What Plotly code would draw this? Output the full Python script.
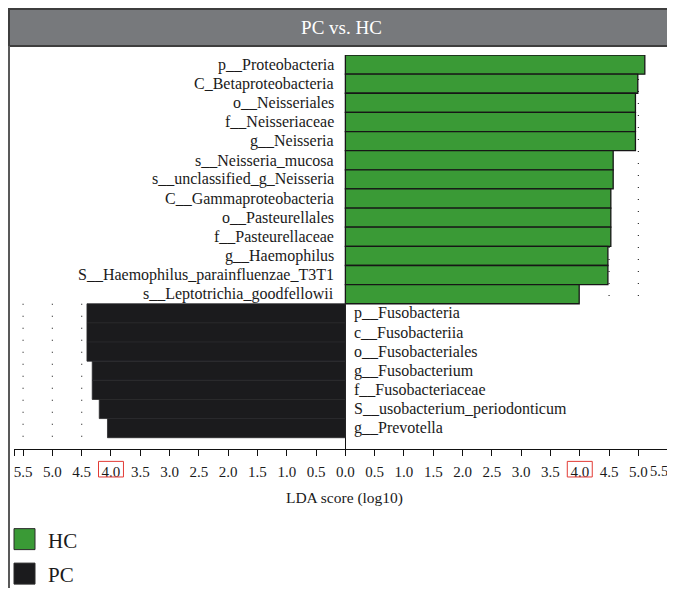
import plotly.graph_objects as go

# ---------------- data ----------------
hc_labels = [
    "p__Proteobacteria", "C_Betaproteobacteria", "o__Neisseriales",
    "f__Neisseriaceae", "g__Neisseria", "s__Neisseria_mucosa",
    "s__unclassified_g_Neisseria", "C__Gammaproteobacteria",
    "o__Pasteurellales", "f__Pasteurellaceae", "g__Haemophilus",
    "S__Haemophilus_parainfluenzae_T3T1", "s__Leptotrichia_goodfellowii",
]
hc_scores = [5.11, 4.99, 4.95, 4.95, 4.95, 4.57, 4.57, 4.53, 4.53, 4.53, 4.48, 4.48, 3.99]

pc_labels = [
    "p__Fusobacteria", "c__Fusobacteriia", "o__Fusobacteriales",
    "g__Fusobacterium", "f__Fusobacteriaceae",
    "S__usobacterium_periodonticum", "g__Prevotella",
]
pc_scores = [4.41, 4.41, 4.41, 4.32, 4.32, 4.20, 4.06]

group_names = ["HC", "PC"]
group_colors = ["#3a9a36", "#1b1b1d"]

tick_values = [-5.5, -5.0, -4.5, -4.0, -3.5, -3.0, -2.5, -2.0, -1.5, -1.0, -0.5,
               0.0, 0.5, 1.0, 1.5, 2.0, 2.5, 3.0, 3.5, 4.0, 4.5, 5.0, 5.5]
grid_values = [4.5, 5.0, 5.5]
highlight_ticks = [-4.0, 4.0]
title_text = "PC vs. HC"
axis_title = "LDA score (log10)"

# ---------------- geometry ----------------
# the page body adds an 8px offset; the figure is sized to fit the window
OFF = 8
VISIBLE_RIGHT = 669          # anchor for the last right-hand tick label
W, H = 675 - OFF, 596 - 2 * OFF
PLOT_LEFT, PLOT_RIGHT, PLOT_TOP, PLOT_BOTTOM = 14, 675, 55, 449.3   # window px
L = PLOT_LEFT - OFF
R = 0
T = PLOT_TOP - OFF
B = H - (PLOT_BOTTOM - OFF)
X_RANGE = [-5.655, 5.625]
SERIF = "Liberation Serif, Times New Roman, serif"

plot_w = W - L - R
plot_h = H - T - B


def px_x(px):
    """window x pixel -> paper x"""
    return (px - OFF - L) / plot_w


def px_y(py):
    """window y pixel -> paper y"""
    return (H - B - (py - OFF)) / plot_h


all_labels = hc_labels + pc_labels
n_hc, n_all = len(hc_labels), len(all_labels)

fig = go.Figure()
fig.add_trace(go.Bar(
    x=hc_scores, y=hc_labels, orientation="h", width=1, name=group_names[0],
    marker=dict(color=group_colors[0], line=dict(color="#161616", width=1.3)),
    showlegend=False, hoverinfo="x+y",
))
fig.add_trace(go.Bar(
    x=[-v for v in pc_scores], y=pc_labels, orientation="h", width=1, name=group_names[1],
    marker=dict(color=group_colors[1], line=dict(color="#2a2a2c", width=0.8)),
    showlegend=False, hoverinfo="x+y",
))

shapes = []
# dotted guide lines
for g in grid_values:
    shapes.append(dict(type="line", xref="x", yref="y", x0=g, x1=g,
                       y0=-0.5, y1=n_hc - 0.5, layer="below",
                       line=dict(color="#333333", width=1.2, dash="1px,11px")))
    shapes.append(dict(type="line", xref="x", yref="y", x0=-g, x1=-g,
                       y0=n_hc - 0.5, y1=n_all - 0.5, layer="below",
                       line=dict(color="#333333", width=1.2, dash="1px,11px")))
# red boxes on tick labels
for v in highlight_ticks:
    shapes.append(dict(type="rect", xref="x", yref="paper", x0=v - 0.213, x1=v + 0.213,
                       y0=px_y(477.3), y1=px_y(461.7),
                       line=dict(color="#e23b35", width=1), fillcolor="rgba(0,0,0,0)"))
# banner
shapes.append(dict(type="rect", xref="paper", yref="paper",
                   x0=px_x(9), x1=px_x(700), y0=px_y(46), y1=px_y(9),
                   fillcolor="#77797c", line=dict(color="#3e3e3e", width=2)))
# left frame line
shapes.append(dict(type="line", xref="paper", yref="paper",
                   x0=px_x(9), x1=px_x(9), y0=px_y(46), y1=px_y(620),
                   line=dict(color="#595959", width=2)))

annotations = []
for lab in hc_labels:
    annotations.append(dict(x=0, y=lab, xref="x", yref="y", text=lab, showarrow=False,
                            xanchor="right", yanchor="middle", xshift=-9,
                            font=dict(family=SERIF, size=16, color="#1a1a1a")))
for lab in pc_labels:
    annotations.append(dict(x=0, y=lab, xref="x", yref="y", text=lab, showarrow=False,
                            xanchor="left", yanchor="middle", xshift=7,
                            font=dict(family=SERIF, size=16, color="#1a1a1a")))

# legend (manual squares)
legend_tops = [529, 563.5]
for name, col, top in zip(group_names, group_colors, legend_tops):
    shapes.append(dict(type="rect", xref="paper", yref="paper",
                       x0=px_x(14), x1=px_x(35), y0=px_y(top + 21), y1=px_y(top),
                       fillcolor=col, line=dict(color="#2a2a2a", width=1)))
    annotations.append(dict(x=px_x(46), y=px_y(top + 12), xref="paper", yref="paper",
                            text=name, showarrow=False, xanchor="left", yanchor="middle",
                            font=dict(family=SERIF, size=21, color="#1a1a1a")))

tick_vals_all = [X_RANGE[0]] + tick_values
tick_text_all = [""] + [f"{abs(v):.1f}" for v in tick_values]
# the last right-hand label would fall past the visible edge: draw it just inside
tick_text_all[-1] = ""
annotations.append(dict(x=px_x(VISIBLE_RIGHT), y=px_y(471.5), xref="paper", yref="paper",
                        text=f"{abs(tick_values[-1]):.1f}", showarrow=False,
                        xanchor="right", yanchor="middle", borderpad=0,
                        font=dict(family=SERIF, size=14.5, color="#1a1a1a")))

fig.update_layout(
    width=W, height=H,
    margin=dict(l=L, r=R, t=T, b=B, pad=0, autoexpand=False),
    paper_bgcolor="white", plot_bgcolor="white",
    barmode="overlay",
    title=dict(text=title_text, x=0.5, xref="container", xanchor="center",
               y=1 - (27 - OFF) / H, yref="container", yanchor="middle",
               font=dict(family=SERIF, size=19, color="white"), automargin=False),
    xaxis=dict(range=X_RANGE, tickmode="array", tickvals=tick_vals_all,
               ticktext=tick_text_all, ticks="outside", ticklen=6, tickwidth=1.4,
               tickcolor="#111111", showline=True, linecolor="#111111", linewidth=1.4,
               showgrid=False, zeroline=True, zerolinecolor="#111111", zerolinewidth=1.4,
               tickfont=dict(family=SERIF, size=15, color="#1a1a1a"),
               ticklabelstandoff=3, ticklabeloverflow="allow", automargin=False,
               title=dict(text=axis_title, standoff=12,
                          font=dict(family=SERIF, size=15.5, color="#1a1a1a")),
               fixedrange=True),
    yaxis=dict(type="category", categoryorder="array", categoryarray=all_labels,
               range=[n_all - 0.5 + 0.59, -0.5], showticklabels=False, showgrid=False,
               zeroline=False, showline=False, ticks="", fixedrange=True, automargin=False),
    shapes=shapes,
    annotations=annotations,
    showlegend=False,
)

fig.write_html("out.html")
